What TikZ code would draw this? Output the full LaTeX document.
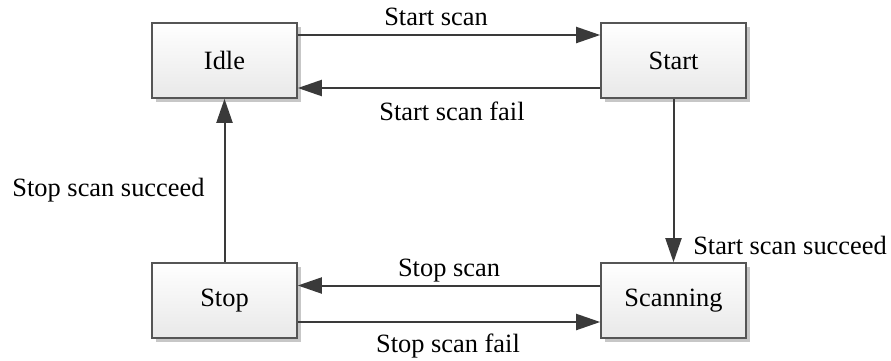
\documentclass[tikz,border=0pt]{standalone}
\usepackage{fontspec}
\setmainfont{Liberation Serif}
\usetikzlibrary{arrows.meta,shadows}
\definecolor{edgegray}{HTML}{3A3A3A}
\definecolor{boxline}{HTML}{555555}
\begin{document}
\begin{tikzpicture}[x=1pt,y=-1pt,
  font=\fontsize{26.4}{30}\selectfont,
  state/.style={draw=boxline, line width=1.6pt, minimum width=145pt, minimum height=75pt,
    inner sep=0pt, top color=white, bottom color=black!9, shading angle=0,
    drop shadow={shadow xshift=4pt, shadow yshift=-4pt, fill=black!22, opacity=1}},
  trans/.style={draw=edgegray, line width=2pt,
    -{Triangle[length=24pt,width=16pt,fill=edgegray]}},
  lbl/.style={anchor=base, inner sep=0pt}]
  \useasboundingbox (0,0) rectangle (891,360);

  % states
  \node[state] (idle)  at (224.5,60.5)  {Idle};
  \node[state] (start) at (673.5,60.5)  {Start};
  \node[state] (stop)  at (224.5,300.5) {Stop};
  \node[state] (scan)  at (673.5,300.5) {Scanning};

  % transitions
  \draw[trans] ([yshift=25.5pt]idle.east) -- ([yshift=25.5pt]start.west);
  \draw[trans] ([yshift=-27.5pt]start.west) -- ([yshift=-27.5pt]idle.east);
  \draw[trans] (start.south) -- (scan.north);
  \draw[trans] ([yshift=15pt]scan.west) -- ([yshift=15pt]stop.east);
  \draw[trans] ([yshift=-21.5pt]stop.east) -- ([yshift=-21.5pt]scan.west);
  \draw[trans] (stop.north) -- (idle.south);

  % transition labels
  \node[lbl] (l1) at (436,25)  {Start scan};
  \node[lbl] (l2) at (452,120) {Start scan fail};
  \node[lbl] (l3) at (108.5,196) {Stop scan succeed};
  \node[lbl] (l4) at (790,254) {Start scan succeed};
  \node[lbl] (l5) at (449,276) {Stop scan};
  \node[lbl] (l6) at (448,352) {Stop scan fail};
\end{tikzpicture}
\end{document}
